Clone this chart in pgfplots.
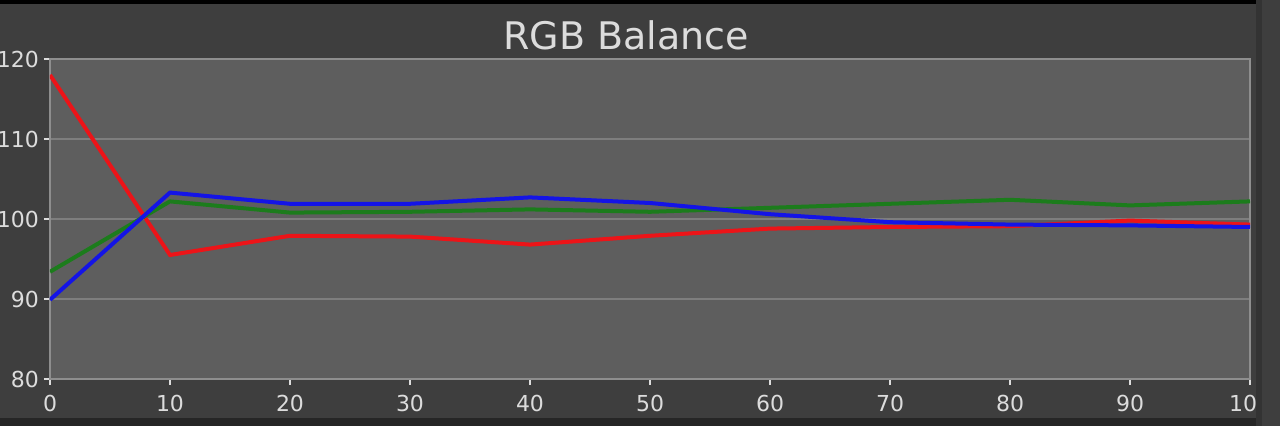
\documentclass[border=0pt]{standalone}
\usepackage{pgfplots}
\pgfplotsset{compat=1.18}
\usepackage{fontspec}
\setmainfont{DejaVu Sans}
\definecolor{outerbg}{HTML}{3E3E3E}
\definecolor{plotbg}{HTML}{5E5E5E}
\definecolor{gridc}{HTML}{7E7E7E}
\definecolor{framec}{HTML}{8E8E8E}
\definecolor{labelc}{HTML}{DCDCDC}
\definecolor{rline}{HTML}{EC1418}
\definecolor{gline}{HTML}{1C7C1C}
\definecolor{bline}{HTML}{1414E6}
\begin{document}
\begin{tikzpicture}
% whole picture is 1280x426 px, 1px = 0.5pt; axis south west sits at pixel (50,379)
\useasboundingbox (-25pt,-23.5pt) rectangle (615pt,189.5pt);
\fill[outerbg] (-25pt,-23.5pt) rectangle (615pt,189.5pt);
\fill[black] (-25pt,187.5pt) rectangle (615pt,189.5pt);
\fill[black!85] (-25pt,-23.5pt) rectangle (615pt,-19.5pt);
\begin{axis}[
  at={(0,0)}, anchor=south west,
  scale only axis,
  width=600pt, height=160pt,
  xmin=0, xmax=100, ymin=80, ymax=120,
  xtick={0,10,...,100}, ytick={80,90,...,120},
  axis background/.style={fill=plotbg},
  axis line style={framec, line width=1pt},
  ymajorgrids,
  major grid style={gridc, line width=0.7pt},
  tick style={labelc, line width=0.6pt},
  tick align=outside,
  major tick length=3pt,
  xtick pos=bottom, ytick pos=left,
  tick label style={labelc, font=\fontsize{11}{13}\selectfont},
  /pgf/number format/assume math mode=true,
  yticklabel style={xshift=1pt},
  xticklabel style={yshift=-1.5pt},
  title={RGB Balance},
  title style={color=labelc, font=\fontsize{19}{22}\selectfont, yshift=-5pt, xshift=-12pt},
]
\addplot[rline, line width=2pt] coordinates {
(0,118) (10,95.5) (20,97.9) (30,97.8) (40,96.8) (50,97.9) (60,98.8) (70,99.0) (80,99.1) (90,99.8) (100,99.3)};
\addplot[gline, line width=2pt] coordinates {
(0,93.4) (10,102.2) (20,100.8) (30,100.9) (40,101.2) (50,100.9) (60,101.4) (70,101.9) (80,102.4) (90,101.7) (100,102.2)};
\addplot[bline, line width=2pt] coordinates {
(0,89.9) (10,103.3) (20,101.9) (30,101.9) (40,102.7) (50,102.0) (60,100.6) (70,99.6) (80,99.3) (90,99.2) (100,99.0)};
\end{axis}
% neighbouring panel on the right
\fill[black!80] (603pt,-23.5pt) rectangle (606pt,189.5pt);
\fill[outerbg] (606pt,-23.5pt) rectangle (615pt,189.5pt);
\end{tikzpicture}
\end{document}
